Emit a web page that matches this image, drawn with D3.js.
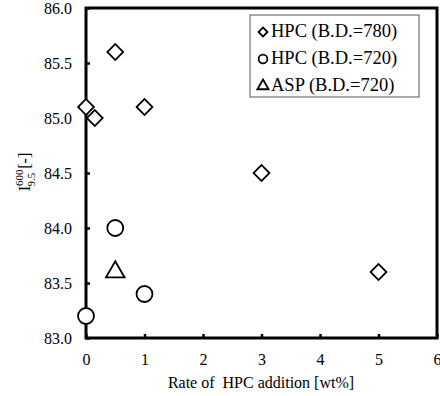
<!DOCTYPE html>
<html><head><meta charset="utf-8">
<script src="https://cdn.jsdelivr.net/npm/d3@7"></script>
<style>body{margin:0;background:#fff;} svg{display:block;}</style>
</head><body>
<svg id="c" width="440" height="396"></svg>
<script>
const xTicks = [0,1,2,3,4,5,6];
const yTicks = [83.0,83.5,84.0,84.5,85.0,85.5,86.0];
const hpc780X = [0, 0.15, 0.5, 1, 3, 5];
const hpc780Y = [85.1, 85.0, 85.6, 85.1, 84.5, 83.6];
const hpc720X = [0, 0.5, 1];
const hpc720Y = [83.2, 84.0, 83.4];
const aspX = [0.5];
const aspY = [83.6];
const legendLabels = ["HPC (B.D.=780)", "HPC (B.D.=720)", "ASP (B.D.=720)"];

const svg = d3.select("#c");
const L = 86, R = 437, T = 8, B = 338;
const x = d3.scaleLinear().domain([0,6]).range([L,R]);
const y = d3.scaleLinear().domain([83,86]).range([B,T]);
const font = "Liberation Serif, Times New Roman, serif";

const xa = svg.append("g").attr("transform",`translate(0,${B})`)
  .call(d3.axisBottom(x).tickValues(xTicks).tickSize(-4).tickPadding(16).tickFormat(d3.format("d")));
const ya = svg.append("g").attr("transform",`translate(${L},0)`)
  .call(d3.axisLeft(y).tickValues(yTicks).tickSize(-4).tickPadding(14).tickFormat(d3.format(".1f")));
[xa,ya].forEach(a=>{
  a.select(".domain").remove();
  a.selectAll(".tick line").attr("stroke","#000").attr("stroke-width",2.5);
  a.selectAll(".tick text").attr("font-family",font).attr("font-size",16).attr("fill","#000");
});
ya.selectAll(".tick text").attr("dy","0.35em");

svg.append("rect").attr("x",L).attr("y",T).attr("width",R-L).attr("height",B-T)
  .attr("fill","none").attr("stroke","#000").attr("stroke-width",3);

const sym = {
  diamond: d3.symbol().type(d3.symbolSquare).size(125),
  circle: d3.symbol().type(d3.symbolCircle).size(200),
  triangle: d3.symbol().type(d3.symbolTriangle).size(150)
};
function draw(xs, ys, kind){
  svg.append("g").selectAll("path").data(xs.map((v,i)=>[v,ys[i]])).join("path")
    .attr("d", sym[kind])
    .attr("transform", d=>`translate(${x(d[0])},${y(d[1])})${kind==="diamond"?" rotate(45)":""}`)
    .attr("fill","#fff").attr("stroke","#000").attr("stroke-width",1.8);
}
draw(hpc780X, hpc780Y, "diamond");
draw(hpc720X, hpc720Y, "circle");
draw(aspX, aspY, "triangle");

const lg = svg.append("g");
lg.append("rect").attr("x",250).attr("y",15).attr("width",169).attr("height",82)
  .attr("fill","#fff").attr("stroke","#555").attr("stroke-width",1);
legendLabels.forEach((t,i)=>{
  const ty = 37 + i*27;
  lg.append("path").attr("d", d3.symbol().type(i===0?d3.symbolSquare:i===1?d3.symbolCircle:d3.symbolTriangle).size(i===0?40:i===1?60:55))
    .attr("transform",`translate(263,${ty-5})${i===0?" rotate(45)":""}`)
    .attr("fill","none").attr("stroke","#000").attr("stroke-width",1.8);
  lg.append("text").attr("x",271).attr("y",ty).attr("font-family",font).attr("font-size",18.5).text(t);
});

svg.append("text").attr("x",261).attr("y",388).attr("text-anchor","middle")
  .attr("font-family",font).attr("font-size",16).attr("xml:space","preserve").text("Rate of  HPC addition [wt%]");

const yt = svg.append("text").attr("transform","translate(30,172) rotate(-90)")
  .attr("text-anchor","middle").attr("font-family",font).attr("font-size",16);
yt.append("tspan").text("I");
yt.append("tspan").attr("font-size",11).attr("dy",-7).text("600");
yt.append("tspan").attr("font-size",11).attr("dx",-17).attr("dy",12).text("9.5");
yt.append("tspan").attr("dy",-5).text(" [-]");
</script>
</body></html>
